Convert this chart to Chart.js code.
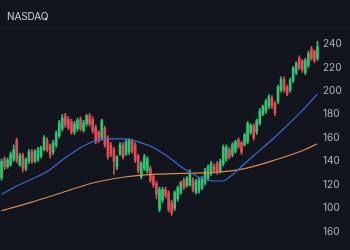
<!DOCTYPE html>
<html>
<head>
<meta charset="utf-8">
<script src="https://cdn.jsdelivr.net/npm/chart.js@4.4.1/dist/chart.umd.min.js"></script>
<style>
  html, body { margin: 0; padding: 0; background: #12151e; }
  #wrap { position: relative; width: 350px; height: 250px; }
  #title {
    position: absolute; left: 7px; top: 10px;
    font-family: "Inter", "Noto Sans", sans-serif; font-size: 10px;
    color: #d1d4dc; letter-spacing: -0.1px;
  }
  #sep { position: absolute; left: 0; top: 28px; width: 350px; height: 1px; background: #1e222d; }
</style>
</head>
<body>
<div id="wrap">
  <canvas id="chart" width="350" height="250"></canvas>
  <div id="title">NASDAQ</div>
  <div id="sep"></div>
</div>
<script>
// Candles
const openV = [126,142,135.5,137,142,158,137,145,134,140,
  148,140,142,144.5,150,158,154,148,154,162,
  168,179,176,174,165,168,176,166.5,172,179,
  176,169,165,160,168,160,154,150,135.5,146,
  154,146,148,157.5,154,144.5,127,134,132,134,
  127,121,99,107,116,113,105,100,108,113.5,
  124,119,120,124,113.5,115,117.6,121.6,125.7,129.8,
  136,138,132,138,142,150,146,148.6,158.4,155.9,
  154.3,156.7,164.9,170.6,165,172.2,180.4,182.9,186.9,193.5,
  189.4,191,200.8,209.8,203.3,200.8,209,215.5,227.8,225.3,
  215.5,222,235.9,233.5,227.8];
const closeV = [140,135.5,141,146,150,141,145,134,142,148,
  140,148.5,150,152,160,150,146,156,164,173,
  177,171,169,165,172,175,168,173,179,172,
  166.5,157,158,174.7,154,144,146,140,143.6,154,
  144,156.7,158,148.6,141,132,138,144,142,124,
  120,112,116,116,111,99,96,113.5,117.6,121.6,
  117.6,125.7,129.8,116,123,124,125.7,132,135.5,138,
  132,131.5,140,152,152,143.6,154.3,156.7,152.6,147.8,
  162.4,172.2,170.6,160,174.7,182.9,186.9,191,195.1,186.9,
  181.2,203.3,209.8,200.8,197.6,209,219.6,223.7,219.6,218,
  226.1,231.8,227.8,226.1,237.6];
const highV = [142,144,143,148,154,160,147,147,143,150,
  150,150,152,153,162,160,155,158,166,175,
  180,181,178,176,174,177,178,175,180,181,
  178,171,166,176,170,162,156,152,145,156,
  156,159,159.5,159,156,146,140,146,144,136,
  128,123,118,118,118,115,107,115,119,123,
  126,127,133,126,125,126,127,134,137,140,
  138,140,142,154,154,152,156,158,160,157,
  164,174,172,172,176,185,188,193,197,196,
  191,205,212,212,205,211,221,225,230,227,
  228,234,238,235,242.4];
const lowV = [124,133,134,136,140,139,136,131,132,138,
  138,139,140,143,149,148,143,146,152,160,
  166,169,167,163,163,166,166,165,170,170,
  164,155,156,158,152,142,144,129,133,145,
  142,145,146,147,139,130,125,132,130,122,
  118,108,97,105,109,97,94,98,106,112,
  116,118,119,114,112,113,116,120,124,128,
  130,129,130,136,140,142,144,147,151,146,
  153,155,163,158,163,171,179,181,185,185,
  179,189,199,199,196,199,207,214,218,216,
  214,220,226,224,226];

// Moving averages (at candle indices)
const blueIdx = [0,5,10,15,20,25,30,35,40,45,50,55,60,65,70,73,75,80,85,90,95,100,104];
const blueVal = [112,119,125,131.4,141.2,150.2,156.7,159.2,159.2,156.7,151.8,143.6,133.9,126.5,123.3,123.3,126.5,138,149.4,160.8,173.1,186.1,197.6];
const orangeIdx = [0,10,20,30,40,50,60,70,80,90,100,104];
const orangeVal = [98,105.3,113.5,121.6,126.5,129,129.8,130.6,133.9,141.2,150.2,155.1];

// Right axis ticks
const tickValues = [80,100,120,140,160,180,200,220,240];
const tickText = ["160","100","120","140","160","180","200","220","240"];

const UP = "#34c274";
const DOWN = "#e04d55";

const labels = openV.map((_, i) => String(i));
const colors = openV.map((o, i) => (closeV[i] >= o ? UP : DOWN));

new Chart(document.getElementById("chart"), {
  data: {
    labels: labels,
    datasets: [
      {
        type: "line",
        data: blueIdx.map((ix, k) => ({ x: String(ix), y: blueVal[k] })),
        borderColor: "#3a6bd4",
        borderWidth: 1.2,
        pointRadius: 0,
        cubicInterpolationMode: "monotone",
        order: 1,
      },
      {
        type: "line",
        data: orangeIdx.map((ix, k) => ({ x: String(ix), y: orangeVal[k] })),
        borderColor: "#d98a52",
        borderWidth: 1.2,
        pointRadius: 0,
        cubicInterpolationMode: "monotone",
        order: 1,
      },
      {
        type: "bar",
        data: lowV.map((l, i) => [l, highV[i]]),
        backgroundColor: colors,
        barThickness: 1,
        grouped: false,
        order: 3,
      },
      {
        type: "bar",
        data: openV.map((o, i) => [o, closeV[i]]),
        backgroundColor: colors,
        barThickness: 2,
        minBarLength: 1,
        grouped: false,
        order: 2,
      },
    ],
  },
  options: {
    responsive: false,
    animation: false,
    layout: { padding: { top: 30, left: 0, right: 0, bottom: 0 } },
    plugins: { legend: { display: false }, tooltip: { enabled: false } },
    scales: {
      x: { type: "category", display: false, offset: true },
      y: {
        position: "right",
        min: 73,
        max: 252,
        border: { display: false },
        grid: { display: false, drawTicks: false },
        afterFit: (scale) => { scale.width = 31; },
        afterBuildTicks: (scale) => { scale.ticks = tickValues.map((v) => ({ value: v })); },
        ticks: {
          padding: 4,
          color: "#b2b5be",
          font: { family: "Inter, 'Noto Sans', sans-serif", size: 10 },
          callback: (v) => tickText[tickValues.indexOf(v)],
        },
      },
    },
  },
});
</script>
</body>
</html>
